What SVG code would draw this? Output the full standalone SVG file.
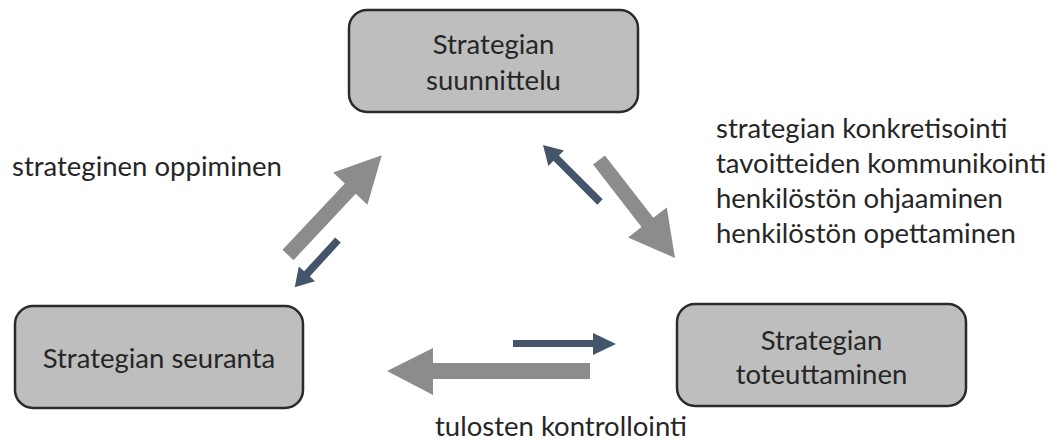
<svg xmlns="http://www.w3.org/2000/svg" width="1053" height="442" viewBox="0 0 1053 442">
  <style>
    .box { fill: #bfbebe; stroke: #2b2b2b; stroke-width: 2.5; }
    .lbl { font-family: Lato, "Open Sans", sans-serif; font-size: 27.5px; fill: #262626; }
    .mid { text-anchor: middle; }
    .big { fill: #8c8c8c; }
    .small { fill: #44546a; }
  </style>
  <rect width="1053" height="442" fill="#ffffff"/>

  <g id="suunnittelu">
    <rect class="box" x="349" y="10" width="289" height="102" rx="18"/>
    <text class="lbl mid" x="493.5" y="54">Strategian</text>
    <text class="lbl mid" x="493.5" y="90">suunnittelu</text>
  </g>

  <g id="seuranta">
    <rect class="box" x="15" y="306" width="288" height="102" rx="18"/>
    <text class="lbl mid" x="159" y="368">Strategian seuranta</text>
  </g>

  <g id="toteuttaminen">
    <rect class="box" x="677" y="304" width="289" height="102" rx="18"/>
    <text class="lbl mid" x="821.5" y="350">Strategian</text>
    <text class="lbl mid" x="821.5" y="384">toteuttaminen</text>
  </g>

  <g id="connectors">
    <!-- seuranta -> suunnittelu (large) and back (small) -->
    <path class="big" transform="translate(288,255) rotate(-46.8)" d="M0,-7.5 H91 V-23.5 L137,0 L91,23.5 V7.5 H0 Z"/>
    <path class="small" transform="translate(338,240) rotate(132.5)" d="M0,-3.8 H46 V-11 L64,0 L46,11 V3.8 H0 Z"/>
    <!-- suunnittelu -> toteuttaminen (large) and back (small) -->
    <path class="big" transform="translate(599,160) rotate(52.2)" d="M0,-7.5 H79 V-24.5 L124,0 L79,24.5 V7.5 H0 Z"/>
    <path class="small" transform="translate(600,202) rotate(-135)" d="M0,-3.8 H62 V-11 L80.6,0 L62,11 V3.8 H0 Z"/>
    <!-- toteuttaminen -> seuranta (large) and back (small) -->
    <path class="big" d="M590,363 H433 V348 L387,371 L433,395 V379 H590 Z"/>
    <path class="small" d="M513,340 H593 V333 L616,344 L593,355 V347 H513 Z"/>
  </g>

  <g id="labels">
    <text class="lbl" x="12" y="176">strateginen oppiminen</text>
    <text class="lbl" x="716" y="138">strategian konkretisointi</text>
    <text class="lbl" x="716" y="173">tavoitteiden kommunikointi</text>
    <text class="lbl" x="716" y="208">henkilöstön ohjaaminen</text>
    <text class="lbl" x="716" y="243">henkilöstön opettaminen</text>
    <text class="lbl" x="435" y="436">tulosten kontrollointi</text>
  </g>
</svg>
